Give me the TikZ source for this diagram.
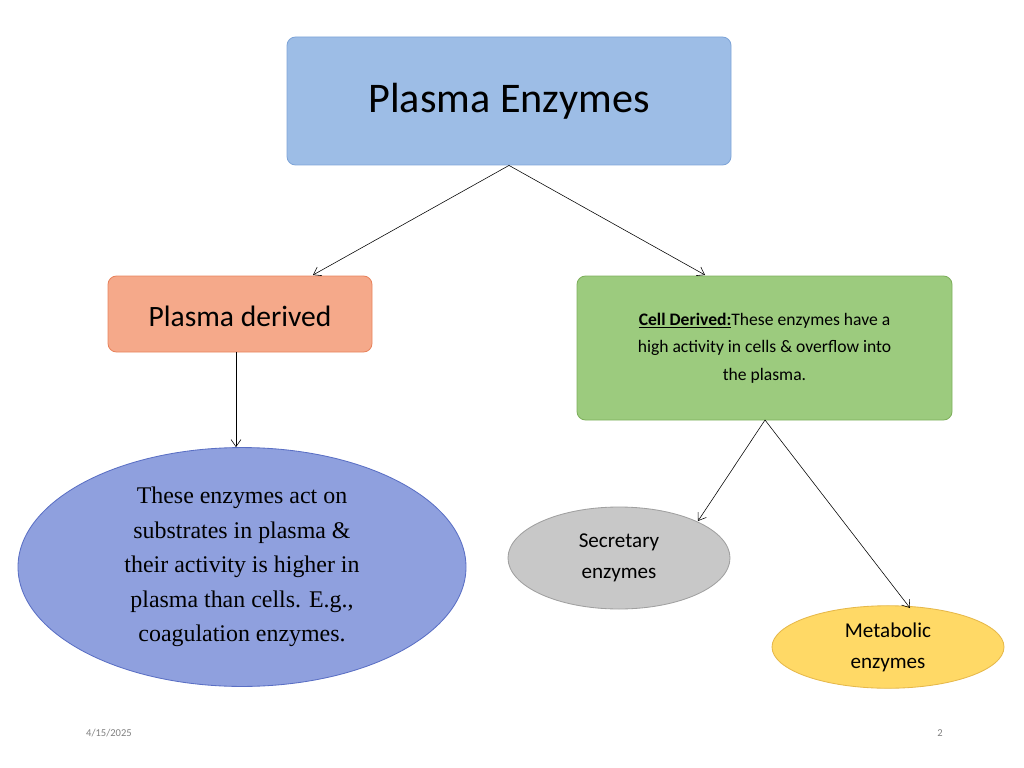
\documentclass[tikz,border=0pt]{standalone}
\usepackage{fontspec}
\setmainfont{Carlito}
\newfontfamily\timesfont{Liberation Serif}
\usetikzlibrary{arrows.meta,shapes.geometric}
\definecolor{titleFill}{HTML}{9DBDE6}
\definecolor{titleLine}{HTML}{7FA5D8}
\definecolor{plasmaFill}{HTML}{F5A98A}
\definecolor{plasmaLine}{HTML}{E8845E}
\definecolor{cellFill}{HTML}{9CCB7E}
\definecolor{cellLine}{HTML}{7FB05D}
\definecolor{actFill}{HTML}{8FA0DE}
\definecolor{actLine}{HTML}{5A6FC4}
\definecolor{secFill}{HTML}{C8C8C8}
\definecolor{secLine}{HTML}{A0A0A0}
\definecolor{metFill}{HTML}{FFD966}
\definecolor{metLine}{HTML}{E6B84A}
\tikzset{
	box/.style    = {draw, rectangle, rounded corners=6pt, line width=0.6pt},
	blob/.style   = {draw, ellipse, line width=0.6pt, align=center},
	link/.style   = {-{Straight Barb[length=5pt,width=7pt]}, line width=0.4pt},
}
\begin{document}
\begin{tikzpicture}[x=0.025cm, y=-0.025cm]
	\useasboundingbox (0,0) rectangle (1024,768);

	%Drawing the Boxes:
	\node[box, fill=titleFill, draw=titleLine, minimum width=444*0.025cm, minimum height=128*0.025cm]
		(title) at (509,101) {\fontsize{30}{36}\selectfont Plasma Enzymes};
	\node[box, fill=plasmaFill, draw=plasmaLine, minimum width=264*0.025cm, minimum height=76*0.025cm]
		(plasma) at (240,314) {};
	\node at (240,316) {\fontsize{21}{25}\selectfont Plasma derived};
	\node[box, fill=cellFill, draw=cellLine, minimum width=375*0.025cm, minimum height=144*0.025cm,
		align=center, font=\fontsize{12.5}{19.5}\selectfont]
		(cell) at (764.5,348) {\textbf{\underline{Cell Derived:}}These enzymes have a\\high activity in cells \& overflow into\\the plasma.};

	%Drawing the Ellipses:
	\node[blob, fill=actFill, draw=actLine, minimum width=448*0.025cm, minimum height=236*0.025cm,
		font=\timesfont\fontsize{17}{24.5}\selectfont]
		(act) at (242,567) {These enzymes act on\\substrates in plasma \&\\their activity is higher in\\plasma than cells. E.g.,\\coagulation enzymes.};
	\node[blob, fill=secFill, draw=secLine, minimum width=222*0.025cm, minimum height=102*0.025cm,
		font=\fontsize{15}{22}\selectfont]
		(sec) at (619,558) {Secretary\\enzymes};
	\node[blob, fill=metFill, draw=metLine, minimum width=232*0.025cm, minimum height=76*0.025cm,
		font=\fontsize{15}{22}\selectfont]
		(met) at (888,647) {Metabolic\\enzymes};

	%Footer:
	\node[font=\fontsize{7.5}{9}\selectfont, text=gray] (date) at (109,733) {4/15/2025};
	\node[font=\fontsize{7.5}{9}\selectfont, text=gray] (page) at (940,733) {2};

	%Joining the Blocks
	\draw[link] (title.south) -- (313,275);
	\draw[link] (title.south) -- (705,275);
	\draw[link] (plasma.south -| 236,0) -- (act.north -| 236,0);
	\draw[link] (765,420) -- (698,521);
	\draw[link] (765,420) -- (910,608);
\end{tikzpicture}
\end{document}
